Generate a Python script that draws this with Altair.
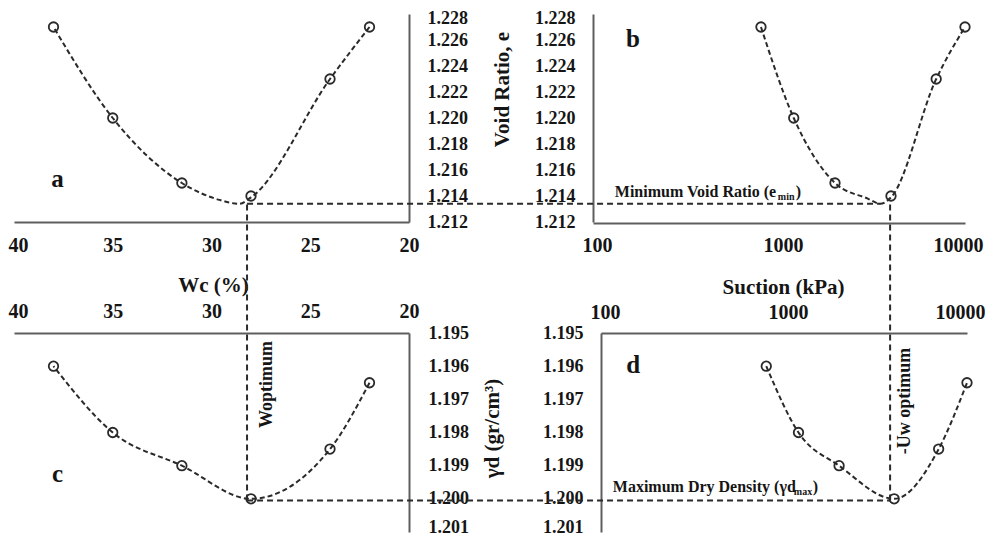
import math
import altair as alt
import pandas as pd

# ---------------- values ----------------
water_content = [38, 35, 31.5, 28, 24, 22]            # Wc (%)
suction_kpa = [800, 1200, 2000, 4000, 7000, 10000]    # Suction (kPa)
void_ratio = [1.227, 1.220, 1.215, 1.214, 1.223, 1.227]
dry_density = [1.196, 1.198, 1.199, 1.200, 1.1985, 1.1965]

# dashed fitted curves
wc_curve = [38, 35, 31.5, 29.6, 28.6, 28, 24, 22]
e_curve_wc = [1.227, 1.220, 1.215, 1.2137, 1.2134, 1.2139, 1.223, 1.227]
suction_curve = [800, 1200, 2000, 3000, 3500, 4000, 7000, 10000]
e_curve_suction = [1.227, 1.220, 1.215, 1.2138, 1.2134, 1.2139, 1.223, 1.227]

wc_ticks = [40, 35, 30, 25, 20]
suction_ticks = [100, 1000, 10000]
e_ticks = [1.212, 1.214, 1.216, 1.218, 1.220, 1.222, 1.224, 1.226, 1.228]
gd_ticks = [1.195, 1.196, 1.197, 1.198, 1.199, 1.200, 1.201]

# optimum values marked by the dashed guide lines
wc_optimum = 28.2
suction_optimum = 3800
suction_at_emin = 3500
e_min = 1.2134
gd_max = 1.20005

# ---------------- layout (pixels inside the plot area) ----------------
W, H = 977, 529
FONT = "Liberation Serif"
INK = "#2a2a2a"
WC_DOM = [40, 20]
SUC_DOM = [100, 10000]
E_DOM = [1.212, 1.228]
GD_DOM = [1.195, 1.201]
X_AC = [6, 401]
X_B = [585, 957]
X_D = [593, 959]
Y_AB = [214, 6]
Y_CD = [325, 524]


def to_px(v, dom, rng, log=False):
    f = math.log10 if log else (lambda t: t)
    return rng[0] + (f(v) - f(dom[0])) / (f(dom[1]) - f(dom[0])) * (rng[1] - rng[0])


def from_px(p, dom, rng, log=False):
    f = math.log10 if log else (lambda t: t)
    v = f(dom[0]) + (p - rng[0]) / (rng[1] - rng[0]) * (f(dom[1]) - f(dom[0]))
    return 10 ** v if log else v


def lin_scale(dom, rng):
    return alt.Scale(domain=dom, range=rng, zero=False, nice=False)


def log_scale(dom, rng):
    return alt.Scale(type="log", domain=dom, range=rng, nice=False)


# keep the outermost tick labels inside the page
X_EDGE_SHIFT = {"condition": [{"test": "datum.value >= 10000", "value": -7},
                              {"test": "datum.value >= 40", "value": 4}],
                "value": 0}
Y_EDGE_SHIFT = {"condition": [{"test": "datum.value >= 1.2275", "value": 4},
                              {"test": "datum.value >= 1.2005 && datum.value < 1.21", "value": -5}],
                "value": 0}


def make_axis(orient, offset, values, fmt, pad, size, **extra):
    kw = dict(orient=orient, offset=offset, values=values, format=fmt,
              labelPadding=pad, labelFontSize=size, labelFont=FONT,
              labelFontWeight="bold", labelColor="#151515", labelFlush=False,
              labelOverlap=False, ticks=False, tickSize=0, grid=False,
              domainColor="#5e5e5e", domainWidth=2)
    if orient in ("top", "bottom"):
        kw["labelBaseline"] = "middle"
        kw["labelOffset"] = X_EDGE_SHIFT
    else:
        kw["labelOffset"] = Y_EDGE_SHIFT
    if "title" in extra:
        kw.update(titleFont=FONT, titleFontSize=21, titleFontWeight="bold",
                  titleColor="#151515", titleAlign="center", titleBaseline="middle")
    else:
        kw["title"] = None
    kw.update(extra)
    return alt.Axis(**kw)


class Panel:
    def __init__(self, sx, sy, ax, ay):
        self.sx, self.sy, self.ax, self.ay = sx, sy, ax, ay
        self.layers = []

    def X(self, f="x:Q"):
        return alt.X(f, scale=self.sx, axis=self.ax)

    def Y(self, f="y:Q"):
        return alt.Y(f, scale=self.sy, axis=self.ay)

    def curve(self, xs, ys):
        df = pd.DataFrame({"x": xs, "y": ys})
        self.layers.append(alt.Chart(df).mark_line(
            strokeDash=[5, 3], strokeWidth=2, color=INK, interpolate="monotone"
        ).encode(x=self.X(), y=self.Y(), order="x:Q"))

    def points(self, xs, ys):
        df = pd.DataFrame({"x": xs, "y": ys})
        self.layers.append(alt.Chart(df).mark_point(
            shape="circle", filled=False, size=90, strokeWidth=1.8, color=INK, opacity=1
        ).encode(x=self.X(), y=self.Y()))

    def hrule(self, x, x2, y):
        df = pd.DataFrame({"x": [x], "x2": [x2], "y": [y]})
        self.layers.append(alt.Chart(df).mark_rule(
            strokeDash=[6, 4], strokeWidth=2, color=INK
        ).encode(x=self.X(), x2="x2:Q", y=self.Y()))

    def vrule(self, x, y, y2):
        df = pd.DataFrame({"x": [x], "y": [y], "y2": [y2]})
        self.layers.append(alt.Chart(df).mark_rule(
            strokeDash=[6, 4], strokeWidth=2, color=INK
        ).encode(x=self.X(), y=self.Y(), y2="y2:Q"))

    def text(self, x, y, label, **style):
        st = dict(font=FONT, fontWeight="bold", color="#151515")
        st.update(style)
        df = pd.DataFrame({"x": [x], "y": [y], "label": [label]})
        self.layers.append(alt.Chart(df).mark_text(**st).encode(
            x=self.X(), y=self.Y(), text="label:N"))

    def chart(self):
        return alt.layer(*self.layers)


ax_a_x = make_axis("bottom", Y_AB[0] - H, wc_ticks, "d", 23, 20)
ax_a_y = make_axis("right", X_AC[1] - W, e_ticks, ".3f", 18, 18)
ax_b_x = make_axis("bottom", Y_AB[0] + 1 - H, suction_ticks, "d", 22, 20)
ax_b_y = make_axis("left", -X_B[0], e_ticks, ".3f", 18, 18,
                   title="Void Ratio, e", titleX=494 - X_B[0], titleY=81, titleAngle=270)
ax_c_x = make_axis("top", -Y_CD[0], wc_ticks, "d", 22, 20,
                   title="Wc (%)", titleX=205, titleY=-48, titleAngle=0)
ax_c_y = make_axis("right", X_AC[1] - W, gd_ticks, ".3f", 19, 18,
                   title="γd (gr/cm³)", titleX=484 - X_AC[1], titleY=420, titleAngle=270)
ax_d_x = make_axis("top", -Y_CD[0], suction_ticks, "d", 21, 20,
                   title="Suction (kPa)", titleX=775, titleY=-46, titleAngle=0)
ax_d_y = make_axis("left", -X_D[0], gd_ticks, ".3f", 18, 18)

# guide lines, converted between the panels' scales
e_min_px = to_px(e_min, E_DOM, Y_AB)
wc_at_b_min = from_px(to_px(suction_at_emin, SUC_DOM, X_B, log=True), WC_DOM, X_AC)
wc_at_d_opt = from_px(to_px(suction_optimum, SUC_DOM, X_D, log=True), WC_DOM, X_AC)
gd_at_emin = from_px(e_min_px, GD_DOM, Y_CD)

# ---------------- panel a: void ratio vs water content ----------------
pa = Panel(lin_scale(WC_DOM, X_AC), lin_scale(E_DOM, Y_AB), ax_a_x, ax_a_y)
pa.curve(wc_curve, e_curve_wc)
pa.points(water_content, void_ratio)
pa.hrule(wc_optimum, wc_at_b_min, e_min)
pa.text(37.8, 1.2147, "a", fontSize=25, align="center", baseline="alphabetic")

# ---------------- panel b: void ratio vs suction ----------------
pb = Panel(log_scale(SUC_DOM, X_B), lin_scale(E_DOM, Y_AB), ax_b_x, ax_b_y)
pb.curve(suction_curve, e_curve_suction)
pb.points(suction_kpa, void_ratio)
pb.text(164, 1.2255, "b", fontSize=25, align="center", baseline="alphabetic")
pb.text(131, 1.2139, "Minimum Void Ratio (e", fontSize=16, align="left", baseline="alphabetic")
pb.text(131, 1.2139, "min", fontSize=10, align="left", baseline="alphabetic", dx=163, dy=3)
pb.text(131, 1.2139, ")", fontSize=16, align="left", baseline="alphabetic", dx=181)

# ---------------- panel c: dry density vs water content ----------------
pc = Panel(lin_scale(WC_DOM, X_AC), lin_scale(GD_DOM, Y_CD), ax_c_x, ax_c_y)
pc.curve(water_content, dry_density)
pc.points(water_content, dry_density)
pc.vrule(wc_optimum, gd_max, gd_at_emin)
pc.hrule(wc_optimum, wc_at_d_opt, gd_max)
pc.text(37.8, 1.1995, "c", fontSize=25, align="center", baseline="alphabetic")
pc.text(27.2, 1.19655, "Woptimum", fontSize=18, align="center", baseline="middle", angle=270)

# ---------------- panel d: dry density vs suction ----------------
pd_ = Panel(log_scale(SUC_DOM, X_D), lin_scale(GD_DOM, Y_CD), ax_d_x, ax_d_y)
pd_.curve(suction_kpa, dry_density)
pd_.points(suction_kpa, dry_density)
pd_.vrule(suction_optimum, gd_max, gd_at_emin)
pd_.text(150, 1.1962, "d", fontSize=25, align="center", baseline="alphabetic")
pd_.text(4600, 1.19705, "-Uw optimum", fontSize=18, align="center", baseline="middle", angle=270)
pd_.text(116, 1.1998, "Maximum Dry Density (γd", fontSize=16, align="left", baseline="alphabetic")
pd_.text(116, 1.1998, "max", fontSize=10, align="left", baseline="alphabetic", dx=181, dy=3)
pd_.text(116, 1.1998, ")", fontSize=16, align="left", baseline="alphabetic", dx=200)

chart = alt.layer(pa.chart(), pb.chart(), pc.chart(), pd_.chart()).resolve_scale(
    x="independent", y="independent"
).resolve_axis(
    x="independent", y="independent"
).properties(
    width=W, height=H, autosize=alt.AutoSizeParams(type="none"), padding=0,
    background="white",
).configure_view(stroke=None)

chart.save("out.html", embed_options={"renderer": "svg", "actions": False})
